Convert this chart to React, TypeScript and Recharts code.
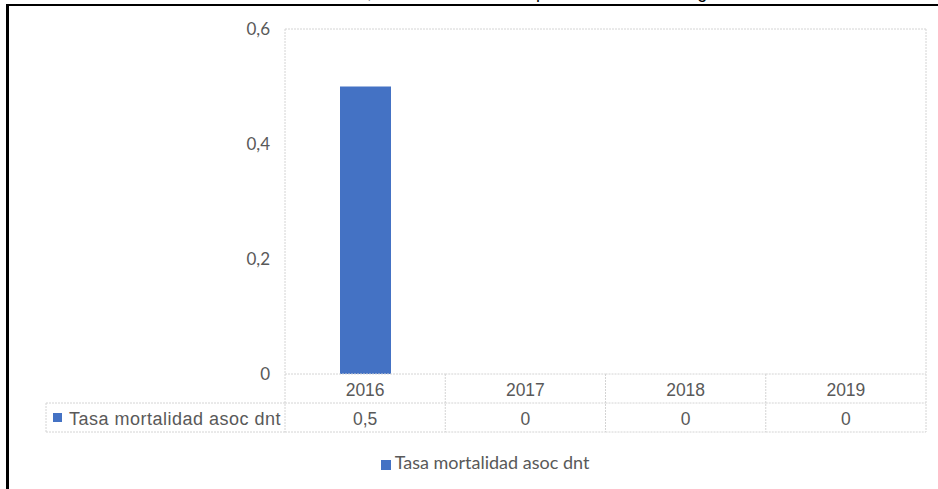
import React from "react";
import {
  BarChart,
  Bar,
  XAxis,
  YAxis,
  CartesianGrid,
  Legend,
} from "recharts";

const years = ["2016", "2017", "2018", "2019"];
const tasa = [0.5, 0, 0, 0];
const yTicks = [0, 0.2, 0.4, 0.6];
const seriesName = "Tasa mortalidad asoc dnt";
const titleStart = "Tasa de mortalidad asociada a desnutrición";
const titleEnd = ", menores de 5 años por 2016 a 2019 Ibagué";

const data = years.map((year, i) => ({ year, tasa: tasa[i] }));

const W = 938;
const H = 489;
// legend height (~21px) is added by recharts to the bottom offset
const MARGIN = { top: 29, right: 12, bottom: 34, left: 225 };
const Y_AXIS_W = 60;
const PLOT_LEFT = MARGIN.left + Y_AXIS_W;
const PLOT_W = W - PLOT_LEFT - MARGIN.right;
const ROW_H = 29;
const HEADER_LEFT = 46;
const BLUE = "#4472C4";
const GRID = "#d4d4d4";
const TEXT = "#595959";

const fmt = (v: number) => String(v).replace(".", ",");

function TableTick(props: any) {
  const { x, y, index } = props;
  const bw = PLOT_W / years.length;
  const left = x - bw / 2;
  const right = x + bw / 2;
  const r1 = y;
  const r2 = y + ROW_H;
  const r3 = y + ROW_H * 2;
  const line = { stroke: GRID, strokeWidth: 1, strokeDasharray: "2 1" };
  return (
    <g>
      <line x1={left} x2={right} y1={r1} y2={r1} {...line} />
      <line x1={left} x2={right} y1={r2} y2={r2} {...line} />
      <line x1={left} x2={right} y1={r3} y2={r3} {...line} />
      <line x1={right} x2={right} y1={r1} y2={r3} {...line} />
      {index === 0 && (
        <g>
          <line x1={left} x2={left} y1={r1} y2={r3} {...line} />
          <line x1={HEADER_LEFT} x2={left} y1={r2} y2={r2} {...line} />
          <line x1={HEADER_LEFT} x2={left} y1={r3} y2={r3} {...line} />
          <line x1={HEADER_LEFT} x2={HEADER_LEFT} y1={r2} y2={r3} {...line} />
          <rect x={HEADER_LEFT + 7} y={r2 + 10} width={9} height={9} fill={BLUE} />
          <text
            x={left - 4}
            y={r2 + ROW_H / 2 + 1}
            textAnchor="end"
            dominantBaseline="central"
            fill={TEXT}
            fontSize={18}
            letterSpacing={0.5}
            fontFamily="'Liberation Sans', Arial, sans-serif"
          >
            {seriesName}
          </text>
        </g>
      )}
      <text
        x={x}
        y={r1 + ROW_H / 2 + 1}
        textAnchor="middle"
        dominantBaseline="central"
        fill={TEXT}
        fontSize={17.5}
        fontFamily="'Liberation Sans', Arial, sans-serif"
      >
        {years[index]}
      </text>
      <text
        x={x}
        y={r2 + ROW_H / 2 + 1}
        textAnchor="middle"
        dominantBaseline="central"
        fill={TEXT}
        fontSize={17.5}
        fontFamily="'Liberation Sans', Arial, sans-serif"
      >
        {fmt(tasa[index])}
      </text>
    </g>
  );
}

export default function App() {
  return (
    <div
      style={{
        position: "absolute",
        left: 0,
        top: 0,
        width: W,
        height: H,
        overflow: "hidden",
        background: "#fff",
      }}
    >
      <div
        style={{
          position: "absolute",
          left: 6,
          top: 4,
          width: 1000,
          height: 1000,
          borderLeft: "3px solid #000",
          borderTop: "2px solid #000",
        }}
      />
      <div
        style={{
          position: "absolute",
          top: -18,
          right: W - 367,
          whiteSpace: "nowrap",
          fontFamily: "'Liberation Sans', Arial, sans-serif",
          fontSize: 18,
          lineHeight: "20px",
          color: "#000",
        }}
      >
        {titleStart}
      </div>
      <div
        style={{
          position: "absolute",
          top: -18,
          left: 367,
          whiteSpace: "nowrap",
          fontFamily: "'Liberation Sans', Arial, sans-serif",
          fontSize: 18,
          lineHeight: "20px",
          color: "#000",
        }}
      >
        {titleEnd}
      </div>
      <div style={{ position: "absolute", left: 0, top: 0 }}>
        <BarChart width={W} height={H} data={data} margin={MARGIN}>
          <CartesianGrid
            stroke={GRID}
            strokeDasharray="2 1"
            horizontalCoordinatesGenerator={({ offset }: any) => [offset.top]}
            verticalCoordinatesGenerator={({ offset }: any) => [
              offset.left,
              offset.left + offset.width,
            ]}
          />
          <XAxis
            dataKey="year"
            axisLine={false}
            tickLine={false}
            tickSize={0}
            tickMargin={0}
            height={59}
            interval={0}
            tick={<TableTick />}
          />
          <YAxis
            width={Y_AXIS_W}
            domain={[0, 0.6]}
            ticks={yTicks}
            axisLine={false}
            tickLine={false}
            tickSize={0}
            tickMargin={15}
            tickFormatter={fmt}
            tick={{ fill: TEXT, fontSize: 17, fontFamily: "Lato, sans-serif" }}
          />
          <Bar
            dataKey="tasa"
            name={seriesName}
            fill={BLUE}
            barSize={51}
            isAnimationActive={false}
          />
          <Legend
            verticalAlign="bottom"
            iconType="square"
            iconSize={10}
            wrapperStyle={{ left: 21, width: W, bottom: 16 }}
            formatter={(value: string) => (
              <span
                style={{
                  color: TEXT,
                  fontSize: 18,
                  fontFamily: "Lato, sans-serif",
                }}
              >
                {value}
              </span>
            )}
          />
        </BarChart>
      </div>
    </div>
  );
}
